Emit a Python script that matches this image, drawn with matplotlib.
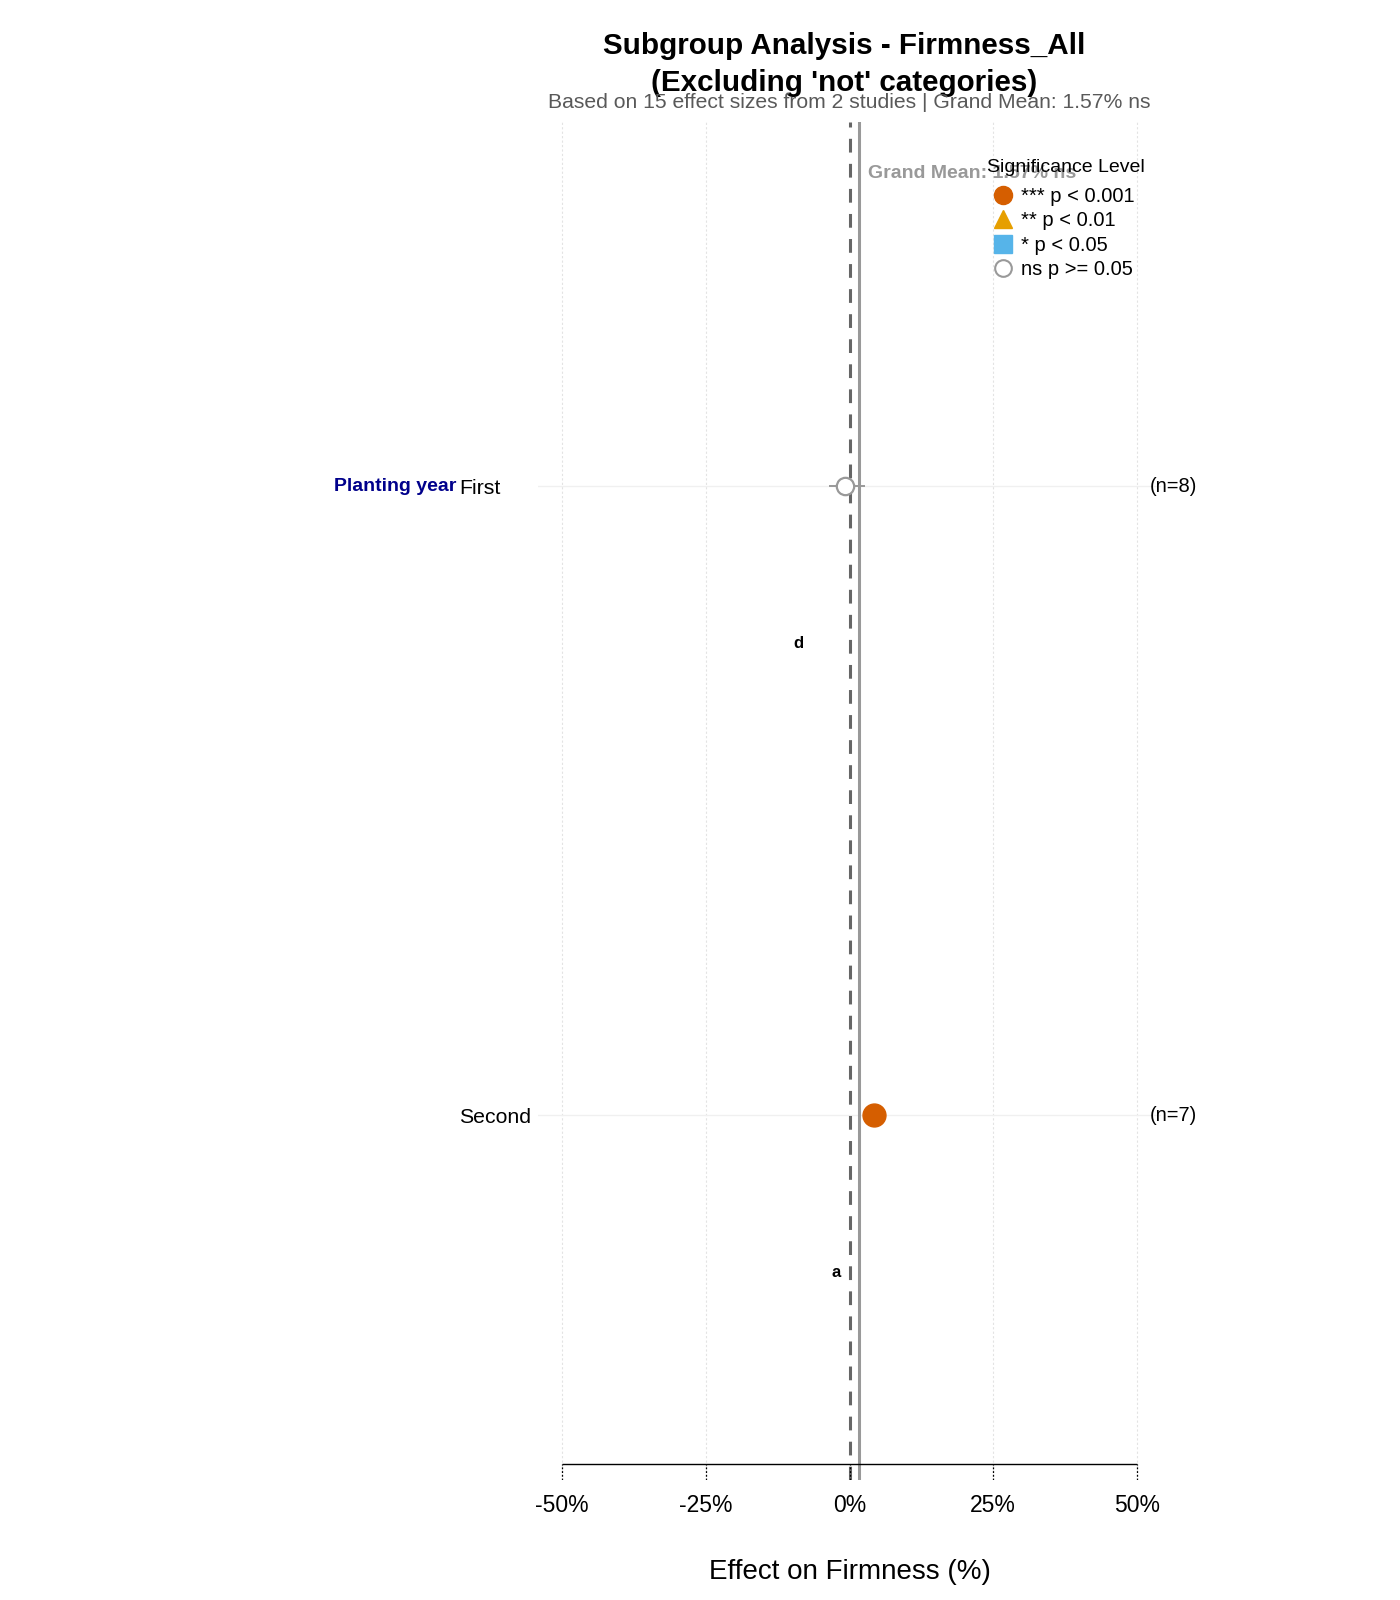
import numpy as np
import matplotlib
matplotlib.use("Agg")
import matplotlib.pyplot as plt
import matplotlib.transforms as mtransforms
from matplotlib.lines import Line2D

plt.rcParams['font.family'] = ['Liberation Sans', 'DejaVu Sans']

# data
groups = ["First", "Second"]
moderator = "Planting year"
effect = [-0.8, 4.2]
ci_low = [-3.6, 2.9]
ci_high = [2.7, 5.5]
n_sizes = [8, 7]
sig = ["ns", "***"]
letters = ["d", "a"]
grand_mean = 1.57
xticks = [-50, -25, 0, 25, 50]
xtick_labels = ["-50%", "-25%", "0%", "25%", "50%"]

sig_style = {
    "***": dict(marker="o", color="#D55E00", label="*** p < 0.001"),
    "**": dict(marker="^", color="#E69F00", label="** p < 0.01"),
    "*": dict(marker="s", color="#56B4E9", label="* p < 0.05"),
    "ns": dict(marker="o", color="#999999", label="ns p >= 0.05"),
}

ypos = [2, 1]  # First on top

fig = plt.figure(figsize=(14, 16), dpi=100)
ax = fig.add_axes([538/1400, 1 - 1480/1600, (1161-538)/1400, (1480-122)/1600])
ax.set_xlim(-54.17, 54.17)
ax.set_ylim(0.42, 2.579)
for s in ax.spines.values():
    s.set_visible(False)

# grid
for xt in xticks:
    if xt != 0:
        ax.axvline(xt, color="#e3e3e3", lw=0.8, ls=(0, (2, 2)), zorder=0)
for y in ypos:
    ax.axhline(y, color="#f0f0f0", lw=1.0, zorder=0)

# reference lines
ax.axvline(0, color="#666666", lw=2.2, dashes=(4.5, 3.7), zorder=2)
ax.axvline(grand_mean, color="#999999", lw=2.2, zorder=2)
trans_gm = mtransforms.blended_transform_factory(ax.transData, ax.transAxes)
ax.text(grand_mean + 1.6, 0.9624, "Grand Mean: 1.57% ns", transform=trans_gm,
        color="#999999", fontsize=14, fontweight="bold", ha="left", va="center")

# x axis line with dotted ticks
y_axis = 0.445
ax.hlines(y_axis, xticks[0], xticks[-1], color="black", lw=1.0, zorder=3)
ax.vlines(xticks, y_axis - 0.025, y_axis, color="black", lw=0.9, ls=(0, (1.5, 1.5)), zorder=3)

# points
for i in range(len(groups)):
    st = sig_style[sig[i]]
    ax.hlines(ypos[i], ci_low[i], ci_high[i], color="#999999", lw=1.4, zorder=3)
    if sig[i] == "ns":
        ax.plot(effect[i], ypos[i], marker="o", ms=12.5, mfc="white", mec=st["color"],
                mew=1.6, ls="none", zorder=4)
    else:
        ax.plot(effect[i], ypos[i], marker=st["marker"], ms=16.5, color=st["color"],
                ls="none", zorder=4)
    ax.text(ci_low[i] - 5.2, ypos[i] - 0.25, letters[i], fontsize=12, fontweight="bold",
            ha="center", va="center")
    ax.text(52.3, ypos[i], "(n=%d)" % n_sizes[i], fontsize=14.5, ha="left", va="center",
            clip_on=False)

# axes labels
ax.set_xticks(xticks)
ax.set_xticklabels(xtick_labels, fontsize=16.5)
ax.tick_params(axis="x", length=0, pad=10)
ax.set_xlabel("Effect on Firmness (%)", fontsize=20, labelpad=30)
ax.set_yticks(ypos)
ax.set_yticklabels(groups, fontsize=15.3)
ax.tick_params(axis="y", length=0, pad=57)
for lab in ax.get_yticklabels():
    lab.set_ha("left")

trans_mod = mtransforms.blended_transform_factory(fig.transFigure, ax.transData)
ax.text(456/1400, ypos[0], moderator, transform=trans_mod, color="#00008B",
        fontsize=14, fontweight="bold", ha="right", va="center")

# titles
fig.text(844/1400, 1 - 64.5/1600, "Subgroup Analysis - Firmness_All\n(Excluding 'not' categories)",
         fontsize=21.3, fontweight="bold", ha="center", va="center", linespacing=1.38)
fig.text(849.5/1400, 1 - 102/1600, "Based on 15 effect sizes from 2 studies | Grand Mean: 1.57% ns",
         fontsize=15.2, color="#595959", ha="center", va="center")

# legend
handles = []
for key in ["***", "**", "*", "ns"]:
    st = sig_style[key]
    if key == "ns":
        h = Line2D([], [], marker="o", ls="none", ms=12, mfc="white", mec=st["color"], mew=1.5,
                   label=st["label"])
    else:
        h = Line2D([], [], marker=st["marker"], ls="none", ms=13, color=st["color"],
                   label=st["label"])
    handles.append(h)
fig.text(987/1400, 1 - 167/1600, "Significance Level", fontsize=14, ha="left", va="center",
         zorder=10)
leg = fig.legend(handles=handles, loc="upper left",
                 bbox_to_anchor=(987/1400, 1 - 187/1600), frameon=False, fontsize=14.5,
                 borderpad=0, handlelength=1.6, handletextpad=0.1,
                 labelspacing=0.27, borderaxespad=0)
leg.set_zorder(10)

fig.savefig("out.png", dpi=100)
